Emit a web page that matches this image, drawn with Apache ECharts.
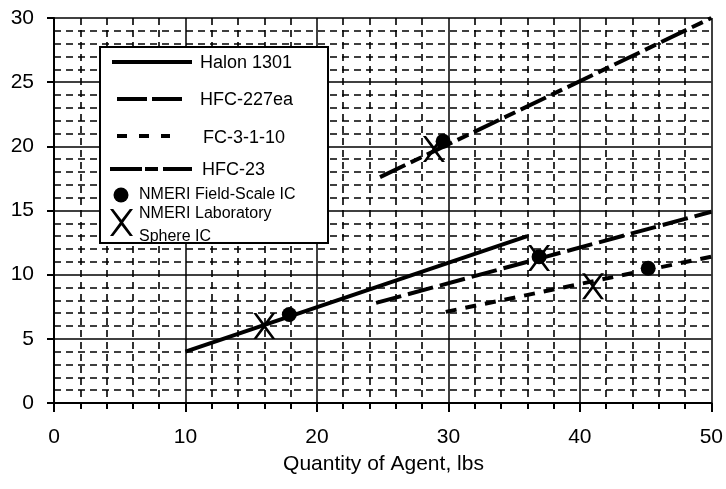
<!DOCTYPE html>
<html>
<head>
<meta charset="utf-8">
<script src="https://cdn.jsdelivr.net/npm/echarts@6/dist/echarts.min.js"></script>
<style>
  html, body { margin: 0; padding: 0; background: #fff; }
  #chart { width: 726px; height: 489px; }
</style>
</head>
<body>
<div id="chart"></div>
<script>
// Agent concentration lines (endpoints of each fitted line) and test points
const xTicks = [0, 10, 20, 30, 40, 50];
const yTicks = [0, 5, 10, 15, 20, 25, 30];
const halon1301 = [[10, 4.0], [36, 13.0]];
const hfc227ea = [[24.5, 7.8], [50, 14.9]];
const fc3110 = [[29.8, 7.1], [50, 11.4]];
const hfc23 = [[24.8, 17.6], [50, 30.0]];
const fieldScaleIC = [[17.9, 6.9], [29.6, 20.4], [36.9, 11.4], [45.2, 10.5]];
const labSphereIC = [[16.0, 6.0], [28.9, 19.8], [36.9, 11.3], [41.0, 9.1]];

const legendNames = ['Halon 1301', 'HFC-227ea', 'FC-3-1-10', 'HFC-23',
  'NMERI Field-Scale IC', 'NMERI Laboratory', 'Sphere IC'];
const xTitle = 'Quantity of Agent, lbs';

const FONT = '"Liberation Sans", Arial, Helvetica, sans-serif';
const BLACK = '#000';
// X-shaped marker outline in a 100x100 box
const crossPts = [[0,0],[14,0],[50,40],[86,0],[100,0],[57,50],[100,100],[86,100],[50,60],[14,100],[0,100],[43,50]];
const crossPath = 'path://M' + crossPts.map(p => p[0] + ',' + p[1]).join(' L') + ' Z';

const dashes = {
  halon: 'solid',
  hfc227: [26, 7],
  fc: [11, 9],
  hfc23: [28, 6, 12, 6]
};

function lineSeries(name, data, dash) {
  return {
    name: name,
    type: 'line',
    data: data,
    showSymbol: false,
    symbol: 'none',
    clip: true,
    z: 3,
    lineStyle: { color: BLACK, width: 4, type: dash, cap: 'butt' }
  };
}

const chart = echarts.init(document.getElementById('chart'), null, { renderer: 'canvas' });

const axisCommon = {
  type: 'value',
  axisLine: { show: true, onZero: false, lineStyle: { color: BLACK, width: 2 } },
  axisTick: { show: true, inside: false, lineStyle: { color: BLACK, width: 2 } },
  splitLine: { show: true, lineStyle: { color: BLACK, width: 1.5, type: 'solid' } },
  minorSplitLine: { show: true, lineStyle: { color: BLACK, width: 1.6, type: [7, 5] } },
  axisLabel: { color: BLACK, fontFamily: FONT, fontSize: 21 }
};

// Legend panel drawn as graphic elements
function legendLine(x1, x2, y, dash) {
  return {
    type: 'line',
    shape: { x1: x1, y1: y, x2: x2, y2: y },
    style: { stroke: BLACK, lineWidth: 4, lineDash: dash === 'solid' ? null : dash, lineCap: 'butt' },
    z: 101
  };
}
function legendText(x, y, text, size) {
  return {
    type: 'text',
    x: x, y: y,
    style: { text: text, fill: BLACK, font: size + 'px ' + FONT, textVerticalAlign: 'middle', textAlign: 'left' },
    z: 101
  };
}
function legendCross(x, y, w, h) {
  return {
    type: 'polygon',
    shape: { points: crossPts.map(p => [x + p[0] * w / 100, y + p[1] * h / 100]) },
    style: { fill: BLACK },
    z: 101
  };
}

const legendGraphics = [
  { type: 'rect', shape: { x: 100, y: 47, width: 228, height: 196 },
    style: { fill: '#fff', stroke: BLACK, lineWidth: 2 }, z: 100 },
  legendLine(112, 192, 62, dashes.halon),
  legendText(200, 63, legendNames[0], 18),
  legendLine(117, 182, 99, [30, 5]),
  legendText(200, 100, legendNames[1], 18),
  legendLine(117, 170, 136, [10, 12]),
  legendText(203, 138, legendNames[2], 18),
  legendLine(110, 192, 169, [32, 3, 13, 5]),
  legendText(202, 170, legendNames[3], 18),
  { type: 'circle', shape: { cx: 121, cy: 195, r: 7.5 }, style: { fill: BLACK }, z: 101 },
  legendText(139, 195, legendNames[4], 16),
  legendCross(110, 209, 23, 27),
  legendText(139, 214, legendNames[5], 16),
  legendText(139, 237, legendNames[6], 16),
  { type: 'text', x: 383.5, y: 464,
    style: { text: xTitle, fill: BLACK, font: '21px ' + FONT, textAlign: 'center', textVerticalAlign: 'middle' } }
];

chart.setOption({
  animation: false,
  backgroundColor: '#fff',
  grid: { left: 54, right: 13, top: 18, bottom: 86, containLabel: false },
  xAxis: Object.assign({}, axisCommon, {
    min: xTicks[0], max: xTicks[xTicks.length - 1], interval: 10,
    axisTick: { show: true, length: 9, lineStyle: { color: BLACK, width: 2 } },
    minorTick: { show: true, splitNumber: 5, length: 6, lineStyle: { color: BLACK, width: 2 } },
    axisLabel: Object.assign({}, axisCommon.axisLabel, { margin: 24 })
  }),
  yAxis: Object.assign({}, axisCommon, {
    min: yTicks[0], max: yTicks[yTicks.length - 1], interval: 5,
    axisTick: { show: true, length: 7, lineStyle: { color: BLACK, width: 2 } },
    minorTick: { show: false, splitNumber: 5 },
    axisLabel: Object.assign({}, axisCommon.axisLabel, { margin: 20 })
  }),
  graphic: legendGraphics,
  series: [
    lineSeries(legendNames[0], halon1301, dashes.halon),
    lineSeries(legendNames[1], hfc227ea, dashes.hfc227),
    lineSeries(legendNames[2], fc3110, dashes.fc),
    lineSeries(legendNames[3], hfc23, dashes.hfc23),
    {
      name: legendNames[4], type: 'scatter', data: fieldScaleIC, z: 4,
      symbol: 'circle', symbolSize: 15, itemStyle: { color: BLACK, opacity: 1 }
    },
    {
      name: legendNames[5], type: 'scatter', data: labSphereIC, z: 5,
      symbol: crossPath, symbolSize: [22, 26], itemStyle: { color: BLACK, opacity: 1 }
    }
  ]
});
</script>
</body>
</html>
